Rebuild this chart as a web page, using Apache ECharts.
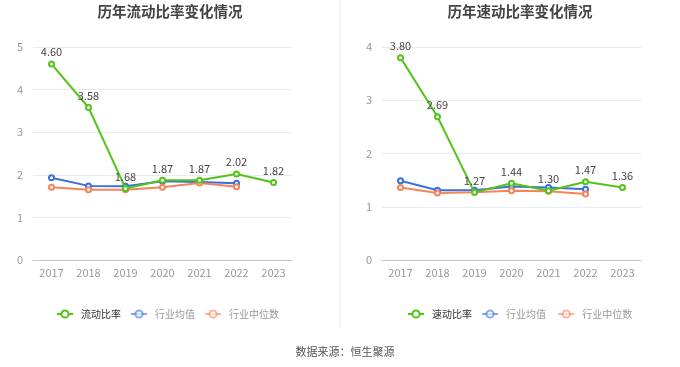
<!DOCTYPE html>
<html><head><meta charset="utf-8">
<script src="https://cdn.jsdelivr.net/npm/echarts@6/dist/echarts.min.js"></script>
<style>html,body{margin:0;padding:0;background:#fff}#c{width:680px;height:367px}</style>
</head><body><div id="c"></div>
<script>
const years = ['2017','2018','2019','2020','2021','2022','2023'];
const currentRatio = [4.60, 3.58, 1.68, 1.87, 1.87, 2.02, 1.82];
const currentIndustryMean = [1.93, 1.74, 1.73, 1.85, 1.83, 1.80];
const currentIndustryMedian = [1.71, 1.65, 1.65, 1.71, 1.81, 1.72];
const quickRatio = [3.80, 2.69, 1.27, 1.44, 1.30, 1.47, 1.36];
const quickIndustryMean = [1.49, 1.31, 1.31, 1.38, 1.36, 1.33];
const quickIndustryMedian = [1.36, 1.26, 1.27, 1.30, 1.29, 1.24];
const leftTicks = {min:0, max:5, interval:1};
const rightTicks = {min:0, max:4, interval:1};

const GREEN='#52c41a', BLUE='#3a6fe0', ORANGE='#f5845a';
const font = '"Noto Sans CJK SC", "Noto Sans", sans-serif';
const chart = echarts.init(document.getElementById('c'));

function xAxis(i){return {type:'category',gridIndex:i,data:years,boundaryGap:true,
  axisLine:{lineStyle:{color:'#c8c8c8'}},axisTick:{alignWithLabel:true,lineStyle:{color:'#c8c8c8'}},
  axisLabel:{color:'#999',fontSize:11,fontFamily:font,margin:7}};}
function yAxis(i,t){return {type:'value',gridIndex:i,min:t.min,max:t.max,interval:t.interval,
  axisLine:{show:false},axisTick:{show:false},
  axisLabel:{color:'#999',fontSize:11,fontFamily:font,margin:10},
  splitLine:{lineStyle:{color:'#e6ebf5'}}};}
function line(name,data,color,i,label){return {name,type:'line',xAxisIndex:i,yAxisIndex:i,data,
  symbol:'emptyCircle',symbolSize:5,lineStyle:{color,width:2},itemStyle:{color,borderWidth:1.5},
  label:{show:!!label,position:'top',color:'#444',fontSize:11,fontFamily:font,distance:3,
    formatter:p=>p.value.toFixed(2)},z: label?3:2};}
function legend(left,first,suffix){return {left,top:304,itemWidth:16,itemHeight:9,itemGap:9,
  textStyle:{fontSize:10,fontFamily:font,color:'#666',padding:[0,0,0,3]},
  data:[{name:first,textStyle:{color:'#333'}},
        {name:'行业均值'+suffix,textStyle:{color:'#999'},itemStyle:{opacity:0.6},lineStyle:{opacity:0.6}},
        {name:'行业中位数'+suffix,textStyle:{color:'#999'},itemStyle:{opacity:0.6},lineStyle:{opacity:0.6}}]};}

chart.setOption({
  animation:false,
  title:[
    {text:'历年流动比率变化情况',left:165,textAlign:'center',top:-1,textStyle:{fontSize:14.5,fontWeight:'bold',color:'#444',fontFamily:font}},
    {text:'历年速动比率变化情况',left:515,textAlign:'center',top:-1,textStyle:{fontSize:14.5,fontWeight:'bold',color:'#444',fontFamily:font}},
    {text:'数据来源：恒生聚源',left:340,textAlign:'center',top:341,textStyle:{fontSize:11,fontWeight:'normal',color:'#555',fontFamily:font}}
  ],
  graphic:[{type:'line',shape:{x1:340,y1:0,x2:340,y2:328},style:{stroke:'#eee',lineWidth:1}}],
  grid:[{left:33,top:47,width:259,height:213},{left:382,top:47,width:259,height:213}],
  legend:[legend(51,'流动比率',''),legend(402,'速动比率',' ')],
  xAxis:[xAxis(0),xAxis(1)],
  yAxis:[yAxis(0,leftTicks),yAxis(1,rightTicks)],
  series:[
    line('行业均值',currentIndustryMean,BLUE,0),
    line('行业中位数',currentIndustryMedian,ORANGE,0),
    line('流动比率',currentRatio,GREEN,0,true),
    line('行业均值 ',quickIndustryMean,BLUE,1),
    line('行业中位数 ',quickIndustryMedian,ORANGE,1),
    line('速动比率',quickRatio,GREEN,1,true)
  ]
});
</script></body></html>
